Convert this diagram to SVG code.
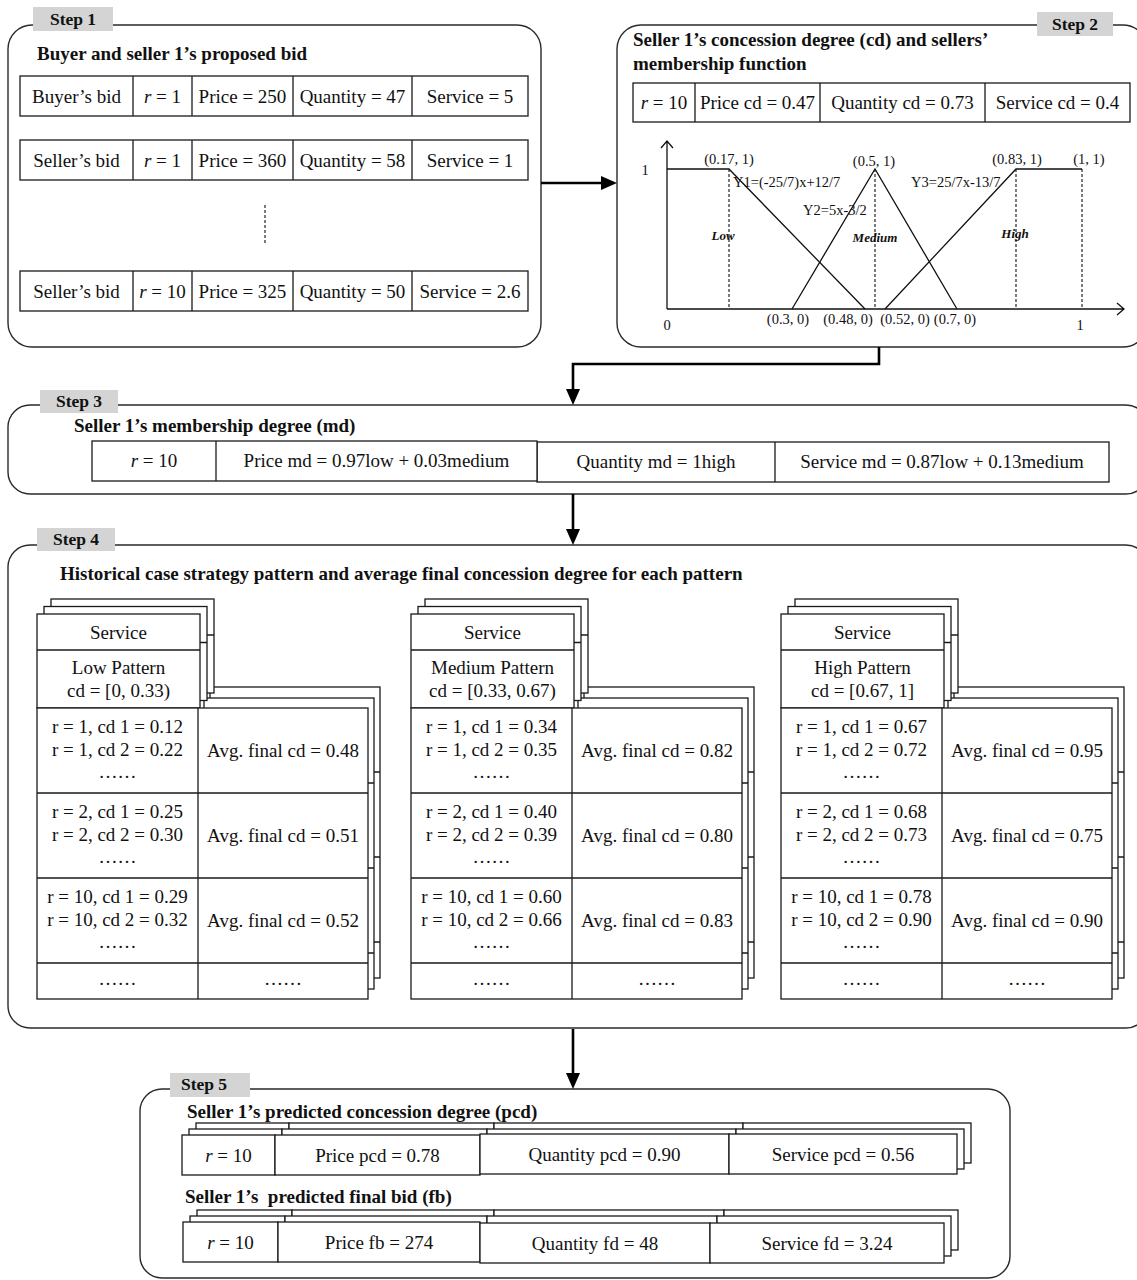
<svg xmlns="http://www.w3.org/2000/svg" xmlns:xlink="http://www.w3.org/1999/xlink" width="1137" height="1280" viewBox="0 0 1137 1280">
<style>
text{font-family:"Liberation Serif","Times New Roman",serif;fill:#111}
.t{font-size:19px}
.c{text-anchor:middle}
.b{font-weight:bold}
.step{font-size:17.5px;font-weight:bold;text-anchor:middle}
.g{font-size:14.5px}
.gi{font-size:13px;font-weight:bold;font-style:italic;text-anchor:middle}
.box{fill:none;stroke:#2a2a2a;stroke-width:1.4}
.lab{fill:#d4d4d4;stroke:none}
.cell{fill:#fff;stroke:#1a1a1a;stroke-width:1.3}
.ln{stroke:#1a1a1a;stroke-width:1.3;fill:none}
.gl{stroke:#111;stroke-width:1.3;fill:none}
.dash{stroke:#111;stroke-width:1.1;stroke-dasharray:3,2;fill:none}
.conn{stroke:#000;stroke-width:2.6;fill:none}
.pre{white-space:pre}
</style>
<defs>
<marker id="arr" markerWidth="16" markerHeight="14" refX="12" refY="7" orient="auto" markerUnits="userSpaceOnUse">
<path d="M0,0 L16,7 L0,14 z" fill="#000"/>
</marker>
<g id="bodyTable">
<rect class="cell" x="0" y="0" width="331" height="291"/>
<path class="ln" d="M161,0 V291 M0,85 H331 M0,170 H331 M0,255 H331"/>
</g>
<g id="headTable">
<rect class="cell" x="0" y="0" width="163" height="94"/>
<path class="ln" d="M0,36 H163"/>
</g>
<g id="patternStack">
<use xlink:href="#bodyTable" x="12" y="73"/>
<use xlink:href="#bodyTable" x="6" y="84"/>
<use xlink:href="#headTable" x="14" y="-15"/>
<use xlink:href="#headTable" x="7" y="-7.5"/>
<use xlink:href="#headTable" x="0" y="0"/>
<use xlink:href="#bodyTable" x="0" y="94"/>
</g>
</defs>

<!-- Step 1 -->
<g id="step1">
<rect class="box" x="8" y="25" width="533" height="322" rx="24"/>
<rect class="lab" x="33" y="7" width="80" height="24"/>
<text class="step" x="73" y="25">Step 1</text>
<text class="t b" x="37" y="60">Buyer and seller 1’s proposed bid</text>
<g id="s1row1">
<rect class="cell" x="20" y="76" width="508" height="40"/>
<path class="ln" d="M133,76 V116 M192,76 V116 M293,76 V116 M412,76 V116"/>
<text class="t c" x="76.5" y="102.5">Buyer’s bid</text>
<text class="t c" x="162.5" y="102.5"><tspan font-style="italic">r</tspan> = 1</text>
<text class="t c" x="242.5" y="102.5">Price = 250</text>
<text class="t c" x="352.5" y="102.5">Quantity = 47</text>
<text class="t c" x="470" y="102.5">Service = 5</text>
</g>
<g id="s1row2">
<rect class="cell" x="20" y="140" width="508" height="40"/>
<path class="ln" d="M133,140 V180 M192,140 V180 M293,140 V180 M412,140 V180"/>
<text class="t c" x="76.5" y="166.5">Seller’s bid</text>
<text class="t c" x="162.5" y="166.5"><tspan font-style="italic">r</tspan> = 1</text>
<text class="t c" x="242.5" y="166.5">Price = 360</text>
<text class="t c" x="352.5" y="166.5">Quantity = 58</text>
<text class="t c" x="470" y="166.5">Service = 1</text>
</g>
<path class="dash" d="M265,205 V245"/>
<g id="s1row3">
<rect class="cell" x="20" y="271" width="508" height="40"/>
<path class="ln" d="M133,271 V311 M192,271 V311 M293,271 V311 M412,271 V311"/>
<text class="t c" x="76.5" y="297.5">Seller’s bid</text>
<text class="t c" x="162.5" y="297.5"><tspan font-style="italic">r</tspan> = 10</text>
<text class="t c" x="242.5" y="297.5">Price = 325</text>
<text class="t c" x="352.5" y="297.5">Quantity = 50</text>
<text class="t c" x="470" y="297.5">Service = 2.6</text>
</g>
</g>

<!-- Step 2 -->
<g id="step2">
<rect class="box" x="617" y="25" width="530" height="322" rx="24"/>
<rect class="lab" x="1037" y="12" width="76" height="24"/>
<text class="step" x="1075" y="30">Step 2</text>
<text class="t b" x="633" y="46">Seller 1’s concession degree (cd) and sellers’</text>
<text class="t b" x="633" y="70">membership function</text>
<rect class="cell" x="633" y="83" width="497" height="39"/>
<path class="ln" d="M695,83 V122 M820,83 V122 M985,83 V122"/>
<text class="t c" x="664" y="109"><tspan font-style="italic">r</tspan> = 10</text>
<text class="t c" x="757.5" y="109">Price cd = 0.47</text>
<text class="t c" x="902.5" y="109">Quantity cd = 0.73</text>
<text class="t c" x="1057.5" y="109">Service cd = 0.4</text>
<g id="chart">
<path class="gl" d="M667,309 V141 M661,148 L667,141 L673,148"/>
<path class="gl" d="M667,309 H1124 M1117,303 L1124,309 L1117,315"/>
<path class="gl" d="M667,169 H729 L865,309"/>
<path class="gl" d="M792,309 L875,169 L957,309"/>
<path class="gl" d="M885,309 L1016,169 H1082"/>
<path class="dash" d="M729,169 V309 M875,169 V309 M1016,169 V309 M1082,169 V309"/>
<text class="g" x="645" y="175" text-anchor="middle">1</text>
<text class="g" x="667" y="330" text-anchor="middle">0</text>
<text class="g" x="1080" y="330" text-anchor="middle">1</text>
<text class="g" x="729" y="164" text-anchor="middle">(0.17, 1)</text>
<text class="g" x="874" y="166" text-anchor="middle">(0.5, 1)</text>
<text class="g" x="1017" y="164" text-anchor="middle">(0.83, 1)</text>
<text class="g" x="1089" y="164" text-anchor="middle">(1, 1)</text>
<text class="g" x="733" y="187">Y1=(-25/7)x+12/7</text>
<text class="g" x="803" y="215">Y2=5x-3/2</text>
<text class="g" x="911" y="187">Y3=25/7x-13/7</text>
<text class="gi" x="723" y="240">Low</text>
<text class="gi" x="875" y="242">Medium</text>
<text class="gi" x="1015" y="238">High</text>
<text class="g" x="788" y="324" text-anchor="middle">(0.3, 0)</text>
<text class="g" x="848" y="324" text-anchor="middle">(0.48, 0)</text>
<text class="g" x="905" y="324" text-anchor="middle">(0.52, 0)</text>
<text class="g" x="955" y="324" text-anchor="middle">(0.7, 0)</text>
</g>
</g>

<!-- Step 3 -->
<g id="step3">
<rect class="box" x="8" y="405" width="1140" height="89" rx="22"/>
<rect class="lab" x="40" y="390" width="78" height="23"/>
<text class="step" x="79" y="407">Step 3</text>
<text class="t b" x="74" y="432">Seller 1’s membership degree (md)</text>
<rect class="cell" x="537" y="442" width="572" height="40"/>
<path class="ln" d="M775,442 V482"/>
<rect class="cell" x="92" y="441" width="445" height="40"/>
<path class="ln" d="M216,441 V481"/>
<text class="t c" x="154" y="467"><tspan font-style="italic">r</tspan> = 10</text>
<text class="t c" x="376.5" y="467">Price md = 0.97low + 0.03medium</text>
<text class="t c" x="656" y="468">Quantity md = 1high</text>
<text class="t c" x="942" y="468">Service md = 0.87low + 0.13medium</text>
</g>

<!-- Step 4 -->
<g id="step4">
<rect class="box" x="8" y="545" width="1140" height="483" rx="22"/>
<rect class="lab" x="37" y="528" width="78" height="23"/>
<text class="step" x="76" y="545">Step 4</text>
<text class="t b" x="60" y="580">Historical case strategy pattern and average final concession degree for each pattern</text>

<g id="lowPattern" transform="translate(37,614)">
<use xlink:href="#patternStack"/>
<text class="t c" x="81.5" y="25">Service</text>
<text class="t c" x="81.5" y="60">Low Pattern</text>
<text class="t c" x="81.5" y="83">cd = [0, 0.33)</text>
<text class="t c" x="80.5" y="119">r = 1, cd 1 = 0.12</text>
<text class="t c" x="80.5" y="142">r = 1, cd 2 = 0.22</text>
<text class="t c" x="80.5" y="164">……</text>
<text class="t c" x="246" y="143">Avg. final cd = 0.48</text>
<text class="t c" x="80.5" y="204">r = 2, cd 1 = 0.25</text>
<text class="t c" x="80.5" y="227">r = 2, cd 2 = 0.30</text>
<text class="t c" x="80.5" y="249">……</text>
<text class="t c" x="246" y="228">Avg. final cd = 0.51</text>
<text class="t c" x="80.5" y="289">r = 10, cd 1 = 0.29</text>
<text class="t c" x="80.5" y="312">r = 10, cd 2 = 0.32</text>
<text class="t c" x="80.5" y="334">……</text>
<text class="t c" x="246" y="313">Avg. final cd = 0.52</text>
<text class="t c" x="80.5" y="371">……</text>
<text class="t c" x="246" y="371">……</text>
</g>

<g id="mediumPattern" transform="translate(411,614)">
<use xlink:href="#patternStack"/>
<text class="t c" x="81.5" y="25">Service</text>
<text class="t c" x="81.5" y="60">Medium Pattern</text>
<text class="t c" x="81.5" y="83">cd = [0.33, 0.67)</text>
<text class="t c" x="80.5" y="119">r = 1, cd 1 = 0.34</text>
<text class="t c" x="80.5" y="142">r = 1, cd 2 = 0.35</text>
<text class="t c" x="80.5" y="164">……</text>
<text class="t c" x="246" y="143">Avg. final cd = 0.82</text>
<text class="t c" x="80.5" y="204">r = 2, cd 1 = 0.40</text>
<text class="t c" x="80.5" y="227">r = 2, cd 2 = 0.39</text>
<text class="t c" x="80.5" y="249">……</text>
<text class="t c" x="246" y="228">Avg. final cd = 0.80</text>
<text class="t c" x="80.5" y="289">r = 10, cd 1 = 0.60</text>
<text class="t c" x="80.5" y="312">r = 10, cd 2 = 0.66</text>
<text class="t c" x="80.5" y="334">……</text>
<text class="t c" x="246" y="313">Avg. final cd = 0.83</text>
<text class="t c" x="80.5" y="371">……</text>
<text class="t c" x="246" y="371">……</text>
</g>

<g id="highPattern" transform="translate(781,614)">
<use xlink:href="#patternStack"/>
<text class="t c" x="81.5" y="25">Service</text>
<text class="t c" x="81.5" y="60">High Pattern</text>
<text class="t c" x="81.5" y="83">cd = [0.67, 1]</text>
<text class="t c" x="80.5" y="119">r = 1, cd 1 = 0.67</text>
<text class="t c" x="80.5" y="142">r = 1, cd 2 = 0.72</text>
<text class="t c" x="80.5" y="164">……</text>
<text class="t c" x="246" y="143">Avg. final cd = 0.95</text>
<text class="t c" x="80.5" y="204">r = 2, cd 1 = 0.68</text>
<text class="t c" x="80.5" y="227">r = 2, cd 2 = 0.73</text>
<text class="t c" x="80.5" y="249">……</text>
<text class="t c" x="246" y="228">Avg. final cd = 0.75</text>
<text class="t c" x="80.5" y="289">r = 10, cd 1 = 0.78</text>
<text class="t c" x="80.5" y="312">r = 10, cd 2 = 0.90</text>
<text class="t c" x="80.5" y="334">……</text>
<text class="t c" x="246" y="313">Avg. final cd = 0.90</text>
<text class="t c" x="80.5" y="371">……</text>
<text class="t c" x="246" y="371">……</text>
</g>
</g>

<!-- Step 5 -->
<g id="step5">
<rect class="box" x="140" y="1089" width="870" height="189" rx="22"/>
<rect class="lab" x="170" y="1073" width="80" height="24"/>
<text class="step" x="204" y="1090">Step 5</text>
<text class="t b" x="187" y="1118">Seller 1’s predicted concession degree (pcd)</text>
<g id="pcdRow">
<rect class="cell" x="196" y="1123" width="93" height="40"/>
<rect class="cell" x="289" y="1123" width="205" height="40"/>
<rect class="cell" x="494" y="1123" width="249" height="40"/>
<rect class="cell" x="743" y="1123" width="228" height="40"/>
<rect class="cell" x="189" y="1129" width="93" height="40"/>
<rect class="cell" x="282" y="1129" width="205" height="40"/>
<rect class="cell" x="487" y="1129" width="249" height="40"/>
<rect class="cell" x="736" y="1129" width="228" height="40"/>
<rect class="cell" x="182" y="1135" width="93" height="40"/>
<rect class="cell" x="275" y="1135" width="205" height="40"/>
<rect class="cell" x="480" y="1134" width="249" height="40"/>
<rect class="cell" x="729" y="1134" width="228" height="40"/>
<text class="t c" x="228.5" y="1161.5"><tspan font-style="italic">r</tspan> = 10</text>
<text class="t c" x="377.5" y="1161.5">Price pcd = 0.78</text>
<text class="t c" x="604.5" y="1161">Quantity pcd = 0.90</text>
<text class="t c" x="843" y="1161">Service pcd = 0.56</text>
</g>
<text class="t b pre" x="185" y="1203" xml:space="preserve">Seller 1’s  predicted final bid (fb)</text>
<g id="fbRow">
<rect class="cell" x="197" y="1210" width="95" height="40"/>
<rect class="cell" x="292" y="1210" width="202" height="40"/>
<rect class="cell" x="494" y="1210" width="230" height="40"/>
<rect class="cell" x="724" y="1210" width="234" height="40"/>
<rect class="cell" x="190" y="1216" width="95" height="40"/>
<rect class="cell" x="285" y="1216" width="202" height="40"/>
<rect class="cell" x="487" y="1216" width="230" height="40"/>
<rect class="cell" x="717" y="1216" width="234" height="40"/>
<rect class="cell" x="183" y="1222" width="95" height="40"/>
<rect class="cell" x="278" y="1222" width="202" height="40"/>
<rect class="cell" x="480" y="1223" width="230" height="40"/>
<rect class="cell" x="710" y="1223" width="234" height="40"/>
<text class="t c" x="230.5" y="1248.5"><tspan font-style="italic">r</tspan> = 10</text>
<text class="t c" x="379" y="1248.5">Price fb = 274</text>
<text class="t c" x="595" y="1249.5">Quantity fd = 48</text>
<text class="t c" x="827" y="1249.5">Service fd = 3.24</text>
</g>
</g>

<!-- Connectors -->
<g id="connectors">
<path class="conn" d="M541,183 H613" marker-end="url(#arr)"/>
<path class="conn" d="M879,347 V364 H573 V401" marker-end="url(#arr)"/>
<path class="conn" d="M573,494 V541" marker-end="url(#arr)"/>
<path class="conn" d="M573,1029 V1085" marker-end="url(#arr)"/>
</g>
</svg>
